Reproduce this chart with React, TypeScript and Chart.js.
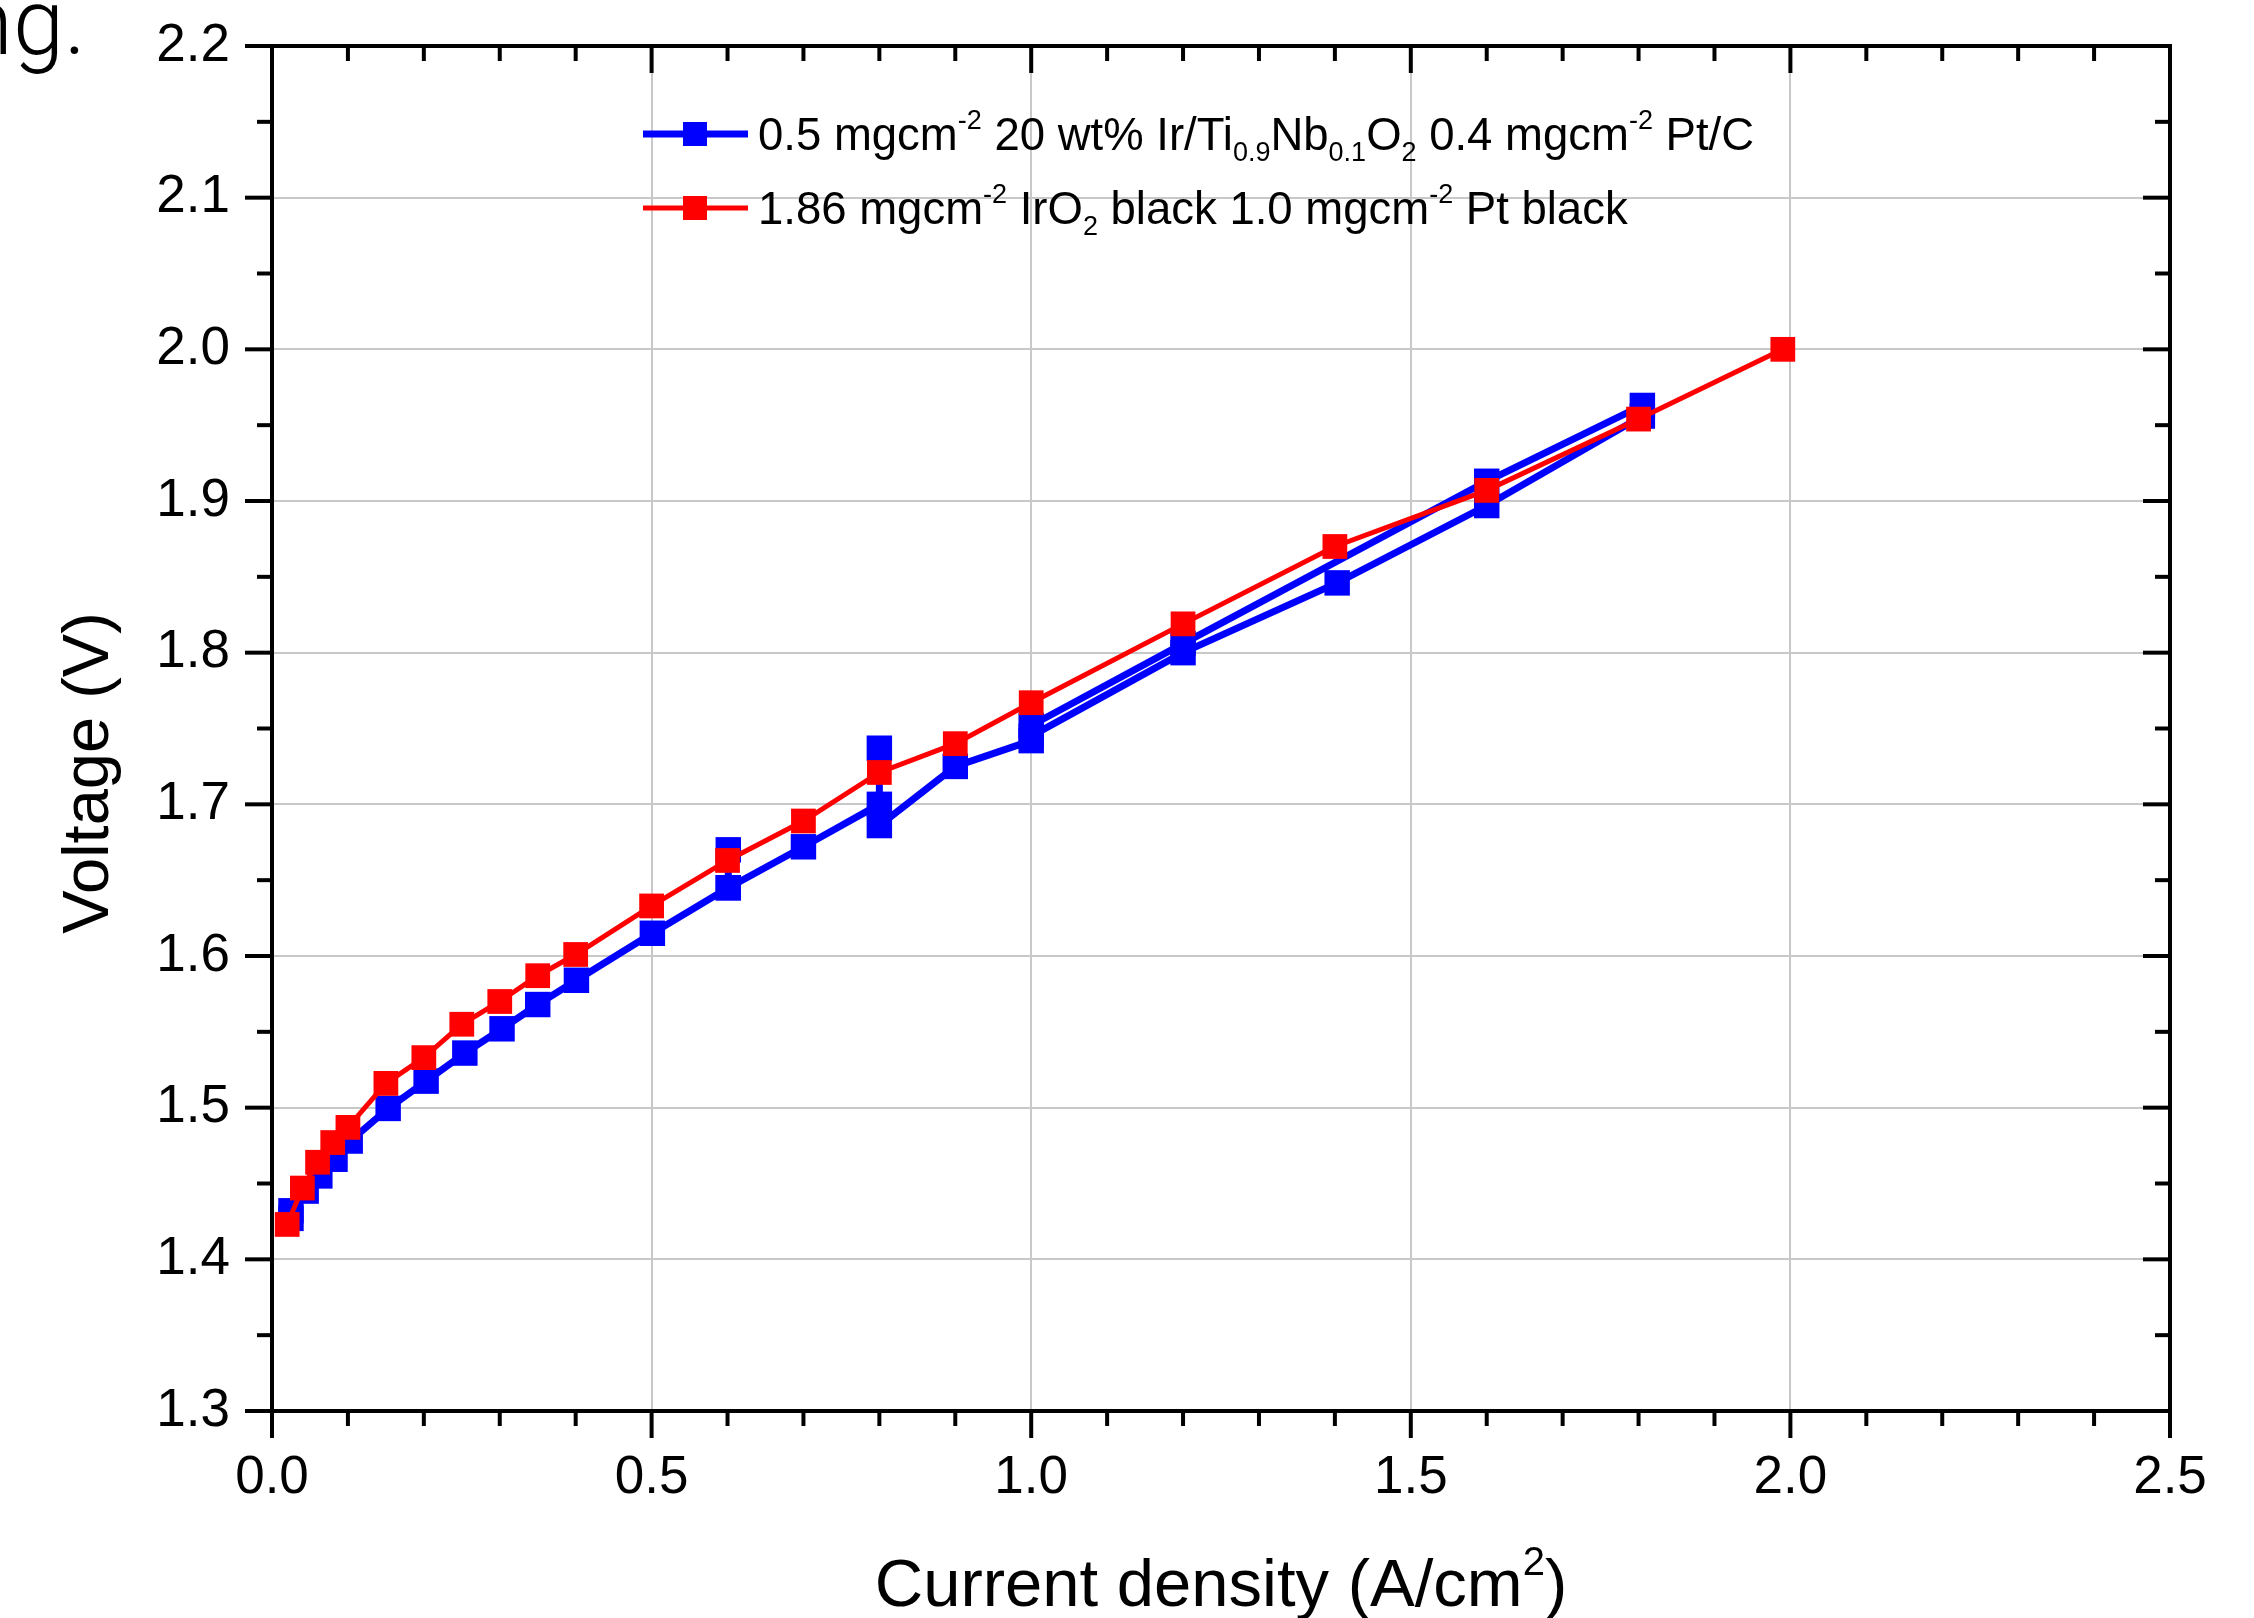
import React, { useEffect, useRef } from 'react';
import { Chart, registerables } from 'chart.js';

Chart.register(...registerables);

// ---------- data ----------
const X_TICK_VALUES = [0, 0.5, 1.0, 1.5, 2.0, 2.5];
const X_TICK_LABELS = ['0.0', '0.5', '1.0', '1.5', '2.0', '2.5'];
const Y_TICK_VALUES = [1.3, 1.4, 1.5, 1.6, 1.7, 1.8, 1.9, 2.0, 2.1, 2.2];
const Y_TICK_LABELS = ['1.3', '1.4', '1.5', '1.6', '1.7', '1.8', '1.9', '2.0', '2.1', '2.2'];

// 0.5 mgcm-2 20 wt% Ir/Ti0.9Nb0.1O2 0.4 mgcm-2 Pt/C (measured up and back down)
const BLUE_X = [0.025, 0.025, 0.045, 0.063, 0.083, 0.103, 0.153, 0.203, 0.254, 0.303, 0.35, 0.401, 0.501,
  0.601, 0.601, 0.601, 0.70, 0.80, 0.80, 0.80, 0.90, 1.00, 1.00, 1.20, 1.60, 1.805,
  1.805, 1.60, 1.403, 1.20, 1.00];
const BLUE_Y = [1.427, 1.432, 1.445, 1.455, 1.466, 1.478, 1.4995, 1.5175, 1.536, 1.552, 1.568, 1.584, 1.615,
  1.645, 1.670, 1.645, 1.672, 1.700, 1.737, 1.686, 1.725, 1.742, 1.752, 1.806, 1.913, 1.963,
  1.956, 1.897, 1.846, 1.800, 1.745];

// 1.86 mgcm-2 IrO2 black 1.0 mgcm-2 Pt black
const RED_X = [0.02, 0.04, 0.06, 0.08, 0.10, 0.15, 0.20, 0.25, 0.30, 0.35, 0.40, 0.50, 0.60, 0.70,
  0.80, 0.90, 1.00, 1.20, 1.40, 1.60, 1.80, 1.99];
const RED_Y = [1.423, 1.447, 1.464, 1.477, 1.487, 1.516, 1.533, 1.555, 1.570, 1.587, 1.601, 1.633, 1.663, 1.689,
  1.721, 1.740, 1.767, 1.819, 1.870, 1.907, 1.954, 2.000];

type Seg = [string, 'n' | 'sup' | 'sub'];
const LEGEND_BLUE: Seg[] = [['0.5 mgcm', 'n'], ['-2', 'sup'], [' 20 wt% Ir/Ti', 'n'], ['0.9', 'sub'], ['Nb', 'n'],
  ['0.1', 'sub'], ['O', 'n'], ['2', 'sub'], [' 0.4 mgcm', 'n'], ['-2', 'sup'], [' Pt/C', 'n']];
const LEGEND_RED: Seg[] = [['1.86 mgcm', 'n'], ['-2', 'sup'], [' IrO', 'n'], ['2', 'sub'], [' black 1.0 mgcm', 'n'],
  ['-2', 'sup'], [' Pt black', 'n']];
const X_TITLE: Seg[] = [['Current density (A/cm', 'n'], ['2', 'sup'], [')', 'n']];
const Y_TITLE: Seg[] = [['Voltage (V)', 'n']];
const CORNER_TEXT = 'ng.';

// ---------- layout / style ----------
const W = 2254;
const H = 1618;
const PLOT = { left: 272, right: 2170, top: 46, bottom: 1411 };
const FONT = '"Liberation Sans", Arial, Helvetica, sans-serif';
const BLUE = '#0000ff';
const RED = '#ff0000';
const MAJOR_LEN = 27;
const MINOR_LEN = 15;

function drawRich(ctx: CanvasRenderingContext2D, segs: Seg[], x: number, y: number, size: number, align: 'left' | 'center') {
  const setFont = (k: string) => {
    ctx.font = `${k === 'n' ? size : Math.round(size * 0.6)}px ${FONT}`;
  };
  let total = 0;
  for (const [t, k] of segs) {
    setFont(k);
    total += ctx.measureText(t).width;
  }
  let cx = align === 'center' ? x - total / 2 : x;
  ctx.textAlign = 'left';
  ctx.textBaseline = 'alphabetic';
  for (const [t, k] of segs) {
    setFont(k);
    const dy = k === 'sup' ? -0.47 * size : k === 'sub' ? 0.25 * size : 0;
    ctx.fillText(t, cx, y + dy);
    cx += ctx.measureText(t).width;
  }
}

const decorPlugin = {
  id: 'decor',
  afterDatasetsDraw(chart: any) {
    const ctx: CanvasRenderingContext2D = chart.ctx;
    const xs = chart.scales.x;
    const ys = chart.scales.y;
    const { left, right, top, bottom } = chart.chartArea;
    ctx.save();
    ctx.strokeStyle = '#000';
    ctx.lineWidth = 4;
    ctx.lineCap = 'butt';
    const line = (x1: number, y1: number, x2: number, y2: number) => {
      ctx.beginPath();
      ctx.moveTo(x1, y1);
      ctx.lineTo(x2, y2);
      ctx.stroke();
    };
    for (let i = 0; i <= 25; i++) {
      const px = xs.getPixelForValue(i / 10);
      const L = i % 5 === 0 ? MAJOR_LEN : MINOR_LEN;
      line(px, bottom, px, bottom + L);
      line(px, top, px, top + L);
    }
    for (let i = 0; i <= 18; i++) {
      const py = ys.getPixelForValue(1.3 + i * 0.05);
      const L = i % 2 === 0 ? MAJOR_LEN : MINOR_LEN;
      line(left - L, py, left, py);
      line(right - L, py, right, py);
    }
    ctx.strokeRect(left, top, right - left, bottom - top);
    ctx.restore();
  },
  afterDraw(chart: any) {
    const ctx: CanvasRenderingContext2D = chart.ctx;
    ctx.save();
    ctx.fillStyle = '#000';

    // legend
    const rows = [
      { segs: LEGEND_BLUE, color: BLUE, lw: 7, y: 134 },
      { segs: LEGEND_RED, color: RED, lw: 5, y: 208 },
    ];
    for (const r of rows) {
      ctx.strokeStyle = r.color;
      ctx.lineWidth = r.lw;
      ctx.beginPath();
      ctx.moveTo(643, r.y);
      ctx.lineTo(748, r.y);
      ctx.stroke();
      ctx.fillStyle = r.color;
      ctx.fillRect(695 - 12, r.y - 12, 24, 24);
      ctx.fillStyle = '#000';
      drawRich(ctx, r.segs, 758, r.y + 16, 45.5, 'left');
    }

    // axis titles
    const cxPlot = (chart.chartArea.left + chart.chartArea.right) / 2;
    drawRich(ctx, X_TITLE, cxPlot, 1606, 67, 'center');
    ctx.save();
    ctx.translate(108, 773);
    ctx.rotate(-Math.PI / 2);
    drawRich(ctx, Y_TITLE, 0, 0, 65, 'center');
    ctx.restore();

    // clipped caption fragment in the corner
    ctx.font = `300 92px Roboto, "Noto Sans", "DejaVu Sans", sans-serif`;
    ctx.textAlign = 'right';
    ctx.textBaseline = 'alphabetic';
    ctx.fillText(CORNER_TEXT, 86, 54);
    ctx.restore();
  },
};

export default function App() {
  const ref = useRef<HTMLCanvasElement | null>(null);
  useEffect(() => {
    document.body.style.margin = '0';
    document.body.style.overflow = 'hidden';
    const canvas = ref.current;
    if (!canvas) return;
    const chart = new Chart(canvas, {
      type: 'line',
      data: {
        datasets: [
          {
            label: 'red',
            data: RED_X.map((x, i) => ({ x, y: RED_Y[i] })),
            borderColor: RED,
            backgroundColor: RED,
            borderWidth: 5,
            pointStyle: 'rect',
            pointRadius: 17.5,
            pointBorderWidth: 0,
            pointBackgroundColor: RED,
            tension: 0,
            order: 1,
          },
          {
            label: 'blue',
            data: BLUE_X.map((x, i) => ({ x, y: BLUE_Y[i] })),
            borderColor: BLUE,
            backgroundColor: BLUE,
            borderWidth: 7,
            pointStyle: 'rect',
            pointRadius: 18,
            pointBorderWidth: 0,
            pointBackgroundColor: BLUE,
            tension: 0,
            order: 2,
          },
        ],
      } as any,
      options: {
        responsive: false,
        animation: false,
        devicePixelRatio: 1,
        layout: { padding: { top: PLOT.top, right: W - PLOT.right, left: 0, bottom: 0 } },
        plugins: { legend: { display: false }, tooltip: { enabled: false }, title: { display: false } },
        scales: {
          x: {
            type: 'linear',
            min: 0,
            max: 2.5,
            afterBuildTicks: (s: any) => { s.ticks = X_TICK_VALUES.map((v) => ({ value: v })); },
            afterFit: (s: any) => { s.height = H - PLOT.bottom; },
            ticks: {
              autoSkip: false,
              maxRotation: 0,
              padding: 36,
              color: '#000',
              font: { family: FONT, size: 53 },
              callback: (v: any) => { const i = X_TICK_VALUES.findIndex((t) => Math.abs(t - v) < 1e-6); return i >= 0 ? X_TICK_LABELS[i] : ''; },
            },
            grid: { color: '#c8c8c8', lineWidth: 2, drawTicks: false },
            border: { display: false },
          },
          y: {
            type: 'linear',
            min: 1.3,
            max: 2.2,
            afterBuildTicks: (s: any) => { s.ticks = Y_TICK_VALUES.map((v) => ({ value: v })); },
            afterFit: (s: any) => { s.width = PLOT.left; },
            ticks: {
              autoSkip: false,
              padding: 4,
              color: '#000',
              font: { family: FONT, size: 53 },
              callback: (v: any) => { const i = Y_TICK_VALUES.findIndex((t) => Math.abs(t - v) < 1e-6); return i >= 0 ? Y_TICK_LABELS[i] : ''; },
            },
            grid: { color: '#c8c8c8', lineWidth: 2, drawTicks: true, tickLength: 38, tickColor: 'rgba(0,0,0,0)' },
            border: { display: false },
          },
        },
      } as any,
      plugins: [decorPlugin as any],
    });
    return () => chart.destroy();
  }, []);
  return (
    <div style={{ width: W, height: H, background: '#fff' }}>
      <canvas ref={ref} width={W} height={H} style={{ display: 'block', width: W, height: H }} />
    </div>
  );
}
